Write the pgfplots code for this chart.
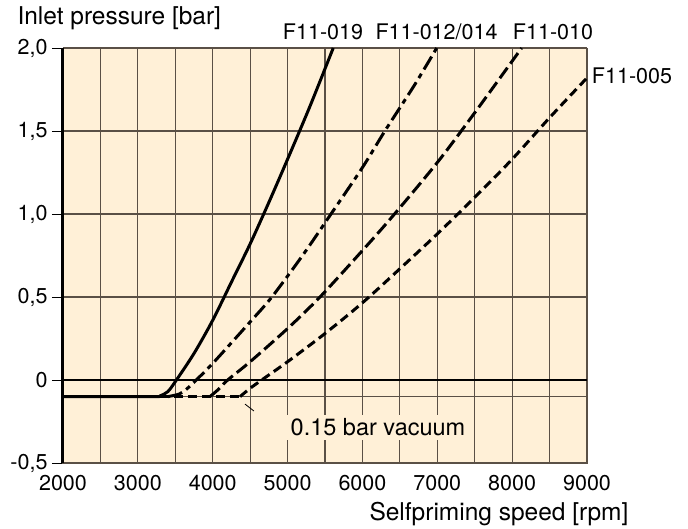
\documentclass[border=0pt]{standalone}
\usepackage{pgfplots}
\pgfplotsset{compat=1.18}
\usepackage{fontspec}
\setmainfont{TeX Gyre Heros}
\definecolor{cream}{RGB}{255,240,215}
\definecolor{gridc}{RGB}{90,80,70}
\begin{document}
\begin{tikzpicture}
\path[use as bounding box] (-63pt,-65pt) rectangle (625pt,463pt);
\begin{axis}[
  at={(0pt,0pt)}, anchor=south west,
  scale only axis, width=524pt, height=415pt,
  xmin=2000, xmax=9000, ymin=-0.5, ymax=2,
  axis background/.style={fill=cream},
  axis line style={gridc, line width=1pt},
  xtick={2000,3000,...,9000},
  xticklabels={2000,3000,4000,5000,6000,7000,8000,9000},
  minor xtick={2500,3500,...,8500},
  ytick={-0.5,0,0.5,1,1.5,2},
  yticklabels={{-0,5},{0},{0,5},{1,0},{1,5},{2,0}},
  xmajorgrids, xminorgrids, ymajorgrids,
  grid style={gridc, line width=1.2pt},
  minor grid style={gridc, line width=1.2pt},
  x tick style={draw=none},
  y tick style={black, line width=1pt},
  tick align=outside, major tick length=11pt,
  ytick pos=left, xtick pos=bottom,
  tick label style={font=\fontsize{21.5}{24}\selectfont},
  xticklabel style={yshift=2pt},
  yticklabel style={xshift=-1pt},
  clip=false,
]
% -0.1 line
\addplot[gridc, line width=1.2pt] coordinates {(2000,-0.1) (9000,-0.1)};
% zero line
\addplot[black, line width=2.5pt] coordinates {(2000,0) (9000,0)};
% F11-019
\addplot[black, line width=3pt, smooth] coordinates {
(2000,-0.1) (3200,-0.1) (3300,-0.095) (3400,-0.07) (3500,-0.01) (3750,0.16) (4000,0.36) (4250,0.59) (4500,0.82) (4750,1.07) (5000,1.33) (5300,1.65) (5610,2.0)};
% F11-012/014
\addplot[black, line width=3pt, smooth, dash pattern=on 15pt off 5pt on 5pt off 5pt] coordinates {
(3400,-0.1) (3550,-0.085) (3650,-0.055) (3780,0) (4000,0.1) (4500,0.35) (4790,0.5) (5200,0.75) (5580,1.0) (6000,1.28) (6300,1.5) (6700,1.78) (6992,2.0)};
% F11-010
\addplot[black, line width=3pt, smooth, dash pattern=on 13pt off 5pt] coordinates {
(3963,-0.1) (4080,-0.055) (4200,0) (4500,0.11) (5000,0.31) (5433,0.5) (6000,0.78) (6410,0.99) (7000,1.31) (7500,1.61) (8127,2.0)};
% F11-005
\addplot[black, line width=3pt, dash pattern=on 9pt off 5pt] coordinates {
(3300,-0.1) (4365,-0.1)};
\addplot[black, line width=3pt, smooth, dash pattern=on 9pt off 5pt] coordinates {
(4365,-0.1) (4500,-0.05) (4654,0) (5000,0.11) (5500,0.28) (6000,0.465) (6500,0.67) (7000,0.88) (7500,1.1) (8000,1.33) (8500,1.58) (9000,1.82)};
% leader line
\draw[black, line width=0.8pt] (axis cs:4431,-0.145) -- (axis cs:4551,-0.187);
\node[fill=cream, inner xsep=9pt, inner ysep=4pt, font=\fontsize{23.5}{26}\selectfont] at (axis cs:6208,-0.286) {0.15 bar vacuum};
% left spine
\draw[black, line width=3pt] (axis cs:2000,-0.5) -- (axis cs:2000,2);
\end{axis}
\node[anchor=west, font=\fontsize{24.5}{28}\selectfont] at (-49pt,445pt) {Inlet pressure [bar]};
\node[anchor=east, font=\fontsize{24.5}{28}\selectfont] at (569pt,-51pt) {Selfpriming speed [rpm]};
\node[font=\fontsize{21.5}{24}\selectfont] at (260pt,431pt) {F11-019};
\node[font=\fontsize{21.5}{24}\selectfont] at (373.5pt,431pt) {F11-012/014};
\node[font=\fontsize{21.5}{24}\selectfont] at (490pt,431pt) {F11-010};
\node[font=\fontsize{21.5}{24}\selectfont] at (569pt,387pt) {F11-005};
\end{tikzpicture}
\end{document}
